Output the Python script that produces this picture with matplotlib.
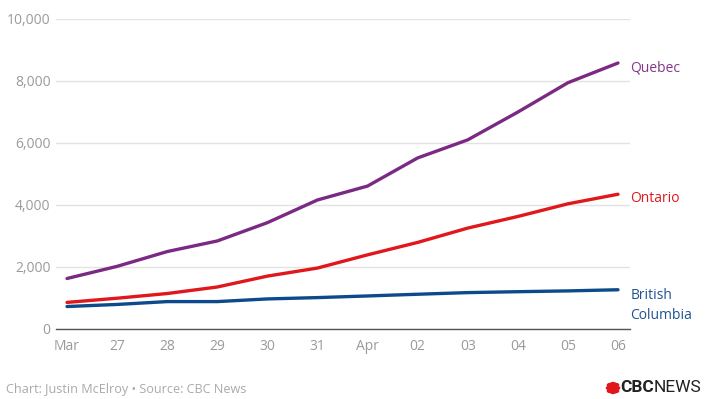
import matplotlib
matplotlib.use("Agg")
import matplotlib.pyplot as plt
from matplotlib.patches import Circle

plt.rcParams['font.family'] = ['Open Sans', 'DejaVu Sans']

dates = ["Mar", "27", "28", "29", "30", "31", "Apr", "02", "03", "04", "05", "06"]
quebec = [1629, 2021, 2498, 2840, 3430, 4162, 4611, 5518, 6101, 6997, 7944, 8580]
ontario = [858, 993, 1144, 1355, 1706, 1966, 2392, 2793, 3255, 3630, 4038, 4347]
bc = [725, 792, 884, 884, 970, 1013, 1066, 1121, 1174, 1203, 1229, 1266]
yticks = [0, 2000, 4000, 6000, 8000, 10000]
ytick_labels = ["0", "2,000", "4,000", "6,000", "8,000", "10,000"]

c_q = "#7b2a83"
c_o = "#e0181c"
c_b = "#0d4a8c"

W, H = 706, 399
fig = plt.figure(figsize=(W / 100, H / 100), dpi=100)
ax = fig.add_axes([56 / W, 1 - 329 / H, (630 - 56) / W, (329 - 19) / H])

x = list(range(len(dates)))
for vals, col in [(bc, c_b), (ontario, c_o), (quebec, c_q)]:
    ax.plot(x, vals, color=col, lw=2.4, solid_capstyle='round', zorder=3)

ax.set_xlim(-0.22, 11.24)
ax.set_ylim(0, 10000)
ax.set_yticks(yticks)
ax.set_yticklabels(ytick_labels)
ax.set_xticks(x)
ax.set_xticklabels(dates)
ax.tick_params(axis='both', length=0, labelsize=10, labelcolor="#9a9a9a")
ax.tick_params(axis='y', pad=4)
ax.tick_params(axis='x', pad=7)
ax.grid(axis='y', color="#e3e3e3", lw=1)
ax.set_axisbelow(True)
for s in ['top', 'right', 'left']:
    ax.spines[s].set_visible(False)
ax.spines['bottom'].set_color("#555555")
ax.spines['bottom'].set_linewidth(1)

ax.annotate("Quebec", (x[-1], quebec[-1]), xytext=(9, -3.5), textcoords='offset points',
            color="#83368a", fontsize=10, va='center', ha='left', annotation_clip=False)
ax.annotate("Ontario", (x[-1], ontario[-1]), xytext=(9, -3), textcoords='offset points',
            color=c_o, fontsize=10, va='center', ha='left', annotation_clip=False)
ax.annotate("British\nColumbia", (x[-1], bc[-1]), xytext=(9, 1), textcoords='offset points',
            color="#1f5490", fontsize=10, va='top', ha='left', linespacing=1.45,
            annotation_clip=False)

fig.text(6 / W, 1 - 389 / H, "Chart: Justin McElroy \u2022 Source: CBC News",
         color="#aaaaaa", fontsize=9.1, va='center', ha='left')

# CBC logo
cx, cy = 613 / W, 1 - 388 / H
for dx, dy in [(0, 0), (-4, 0), (4, 0), (0, -4), (0, 4), (-3, -3), (3, 3), (-3, 3), (3, -3)]:
    fig.patches.append(Circle((cx + dx / W, cy + dy / H), 2.6 / W, color="#e0181c",
                              transform=fig.transFigure, zorder=5))
t1 = fig.text(620 / W, cy, "CBC", color="#222222", fontsize=12.5, fontweight='bold',
              va='center', ha='left', family=['Roboto', 'DejaVu Sans'])
fig.canvas.draw()
bb = t1.get_window_extent()
fig.text((bb.x1 - 0.5) / W, cy, "NEWS", color="#222222", fontsize=12.5,
         va='center', ha='left', family=['Roboto', 'DejaVu Sans'])

fig.savefig("out.png", dpi=100)
